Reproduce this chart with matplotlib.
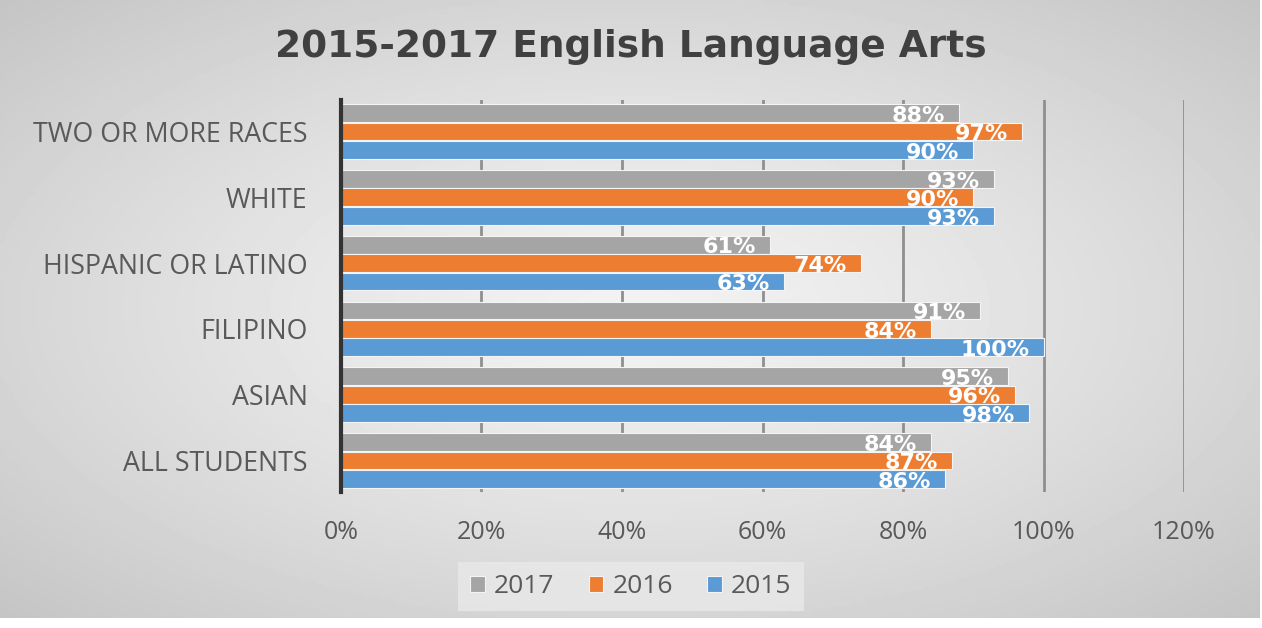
import numpy as np
import matplotlib.pyplot as plt

categories = ["ALL STUDENTS", "ASIAN", "FILIPINO", "HISPANIC OR LATINO", "WHITE", "TWO OR MORE RACES"]
years = ["2017", "2016", "2015"]
scores_2017 = [84, 95, 91, 61, 93, 88]
scores_2016 = [87, 96, 84, 74, 90, 97]
scores_2015 = [86, 98, 100, 63, 93, 90]
series = [scores_2017, scores_2016, scores_2015]
colors = ["#a5a5a5", "#ed7d31", "#5b9bd5"]
xticks = [0, 20, 40, 60, 80, 100, 120]

plt.rcParams['font.family'] = ['Open Sans', 'DejaVu Sans']

fig = plt.figure(figsize=(12.62, 6.28), dpi=100, facecolor="white")

# radial grey background
bg = fig.add_axes([0, 0.016, 0.998, 0.984], zorder=-10)
gx, gy = np.meshgrid(np.linspace(-1, 1, 400), np.linspace(-1, 1, 200))
r = np.sqrt(gx ** 2 + gy ** 2) / np.sqrt(2)
shade = 0.95 - 0.18 * r ** 1.3
bg.imshow(shade, cmap="gray", vmin=0, vmax=1, aspect="auto", extent=[0, 1, 0, 1])
bg.set_axis_off()

ax = fig.add_axes([0.2702, 0.2166, 0.668, 0.6242])
ax.patch.set_alpha(0)

y = np.arange(len(categories))
h = 0.27
offsets = [0.28, 0, -0.28]
for vals, yr, col, off in zip(series, years, colors, offsets):
    bars = ax.barh(y + off, vals, height=h, color=col, edgecolor="#f4f4f4",
                   linewidth=0.8, label=yr, zorder=3)
    for b, v in zip(bars, vals):
        ax.annotate(f"{v}%", (b.get_width(), b.get_y() + b.get_height() / 2),
                    xytext=(-10, -2), textcoords="offset points", ha="right", va="center",
                    color="white", fontsize=16, fontweight="bold",
                    family="DejaVu Sans", zorder=4)

ax.set_xlim(0, 120)
ax.set_ylim(-0.48, 5.48)
ax.set_xticks(xticks)
ax.set_xticklabels([f"{t}%" for t in xticks], fontsize=18, color="#595959")
ax.set_yticks(y)
ax.set_yticklabels(categories, fontsize=19.3, color="#595959")
ax.tick_params(length=0, pad=20)
ax.tick_params(axis="y", pad=24)
ax.grid(axis="x", color="#8f8f8f", linewidth=2, zorder=0)
for s in ["top", "right", "bottom"]:
    ax.spines[s].set_visible(False)
ax.spines["left"].set_color("#333333")
ax.spines["left"].set_linewidth(3)
ax.spines["left"].set_zorder(5)

fig.text(0.5, 0.925, "2015-2017 English Language Arts", ha="center", va="center",
         fontsize=27, fontweight="bold", color="#404040", family="DejaVu Sans")

leg = fig.legend(loc="center", bbox_to_anchor=(0.5, 0.066), ncol=3, fontsize=19,
                 frameon=True, handlelength=0.55, handleheight=0.55, columnspacing=1.3,
                 handletextpad=0.35, fancybox=False, borderpad=0.45, borderaxespad=0)
leg.get_frame().set_facecolor("#e9e9e9")
leg.get_frame().set_edgecolor("none")
for t in leg.get_texts():
    t.set_color("#595959")

fig.savefig("out.png", dpi=100, facecolor="white")
